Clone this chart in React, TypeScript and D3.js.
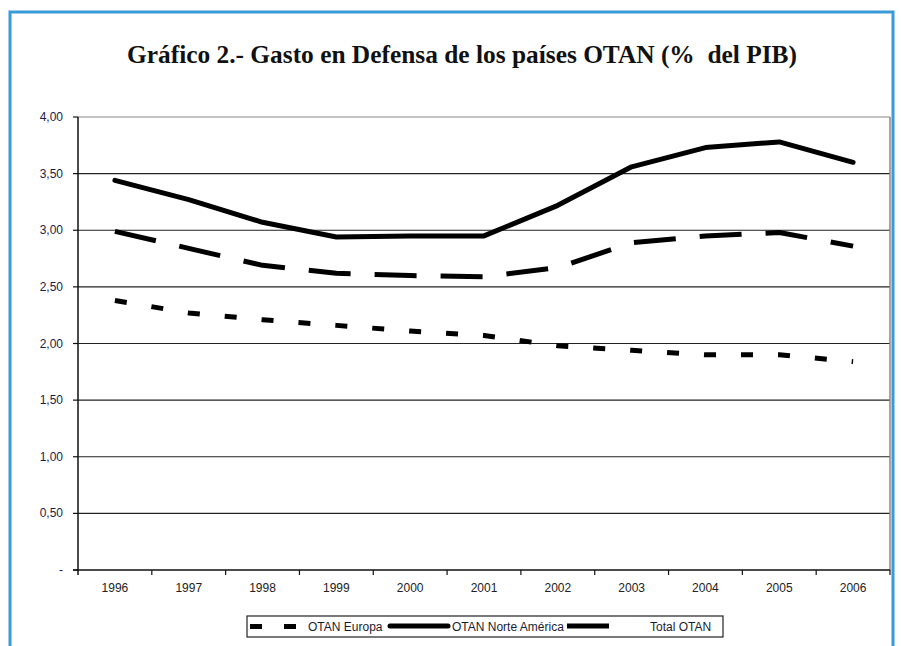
import React from "react";
import * as d3 from "d3";

const years = ["1996","1997","1998","1999","2000","2001","2002","2003","2004","2005","2006"];
const europa = [2.38, 2.27, 2.21, 2.16, 2.11, 2.07, 1.98, 1.94, 1.90, 1.90, 1.84];
const norteAmerica = [3.44, 3.27, 3.07, 2.94, 2.95, 2.95, 3.22, 3.56, 3.73, 3.78, 3.60];
const totalOtan = [2.99, 2.84, 2.69, 2.62, 2.60, 2.59, 2.67, 2.89, 2.95, 2.98, 2.86];
const yTicks = [0, 0.5, 1, 1.5, 2, 2.5, 3, 3.5, 4];
const yTickLabels = ["-", "0,50", "1,00", "1,50", "2,00", "2,50", "3,00", "3,50", "4,00"];
const title = "Gráfico 2.- Gasto en Defensa de los países OTAN (%  del PIB)";

const series = [
  { name: "OTAN Europa", values: europa, dash: "12,25" },
  { name: "OTAN Norte América", values: norteAmerica, dash: null },
  { name: "Total OTAN", values: totalOtan, dash: "42,24" },
];

export default function App() {
  const W = 901, H = 646;
  const left = 78, right = 890, top = 117, bottom = 570;
  const x = d3.scaleBand().domain(years).range([left, right]);
  const y = d3.scaleLinear().domain([0, 4]).range([bottom, top]);
  const line = d3.line<number>()
    .x((_, i) => (x(years[i]) as number) + x.bandwidth() / 2)
    .y((d) => y(d));
  const font = "Arial, 'Liberation Sans', sans-serif";
  return (
    <svg width={W} height={H} style={{ position: "absolute", left: 0, top: 0, background: "#fff" }}>
      {/* blue frame */}
      <path d={`M10,${H} L10,12 L893,12 L893,${H}`} fill="none" stroke="#3a9ad9" strokeWidth={3} />
      <text x={127} y={63} textLength={670} lengthAdjust="spacingAndGlyphs" xmlSpace="preserve"
        fontFamily="'Liberation Serif', 'Times New Roman', serif"
        fontWeight="bold" fontSize={25} fill="#111" style={{ whiteSpace: "pre" }}>{title}</text>
      {/* gridlines */}
      {yTicks.slice(1, -1).map((t) => (
        <line key={t} x1={left} x2={right} y1={y(t)} y2={y(t)} stroke="#222" strokeWidth={1.2} />
      ))}
      {/* frame top/right */}
      <line x1={left} x2={right} y1={top} y2={top} stroke="#888" strokeWidth={1.2} />
      <line x1={right} x2={right} y1={top} y2={bottom} stroke="#888" strokeWidth={1.5} />
      {/* axes */}
      <line x1={left} x2={left} y1={top} y2={bottom + 5} stroke="#111" strokeWidth={1.5} />
      <line x1={left - 5} x2={right} y1={bottom} y2={bottom} stroke="#111" strokeWidth={1.5} />
      {yTicks.map((t, i) => (
        <g key={t}>
          <line x1={left - 5} x2={left} y1={y(t)} y2={y(t)} stroke="#111" strokeWidth={1.2} />
          <text x={63} y={y(t) + 4} textAnchor="end" fontFamily={font} fontSize={12} fill="#1c1c48">{yTickLabels[i]}</text>
        </g>
      ))}
      {years.map((yr) => (
        <g key={yr}>
          <line x1={(x(yr) as number) + x.bandwidth()} x2={(x(yr) as number) + x.bandwidth()} y1={bottom} y2={bottom + 5} stroke="#111" strokeWidth={1.2} />
          <text x={(x(yr) as number) + x.bandwidth() / 2} y={592} textAnchor="middle" fontFamily={font} fontSize={12} fill="#222">{yr}</text>
        </g>
      ))}
      {/* lines */}
      {series.map((s) => (
        <path key={s.name} d={line(s.values) || ""} fill="none" stroke="#000" strokeWidth={5}
          strokeDasharray={s.dash || undefined} strokeLinecap={s.dash ? "butt" : "round"} strokeLinejoin="round" />
      ))}
      {/* legend */}
      <rect x={247} y={616} width={476} height={21} fill="#fff" stroke="#222" strokeWidth={1.2} />
      <line x1={250} x2={296} y1={626.5} y2={626.5} stroke="#000" strokeWidth={5} strokeDasharray="12,22" />
      <text x={308} y={631} fontFamily={font} fontSize={12} fill="#1c1c30">OTAN Europa</text>
      <line x1={390} x2={448} y1={626} y2={626} stroke="#000" strokeWidth={5} strokeLinecap="round" />
      <text x={452} y={631} fontFamily={font} fontSize={12} fill="#1c1c30">OTAN Norte América</text>
      <line x1={567} x2={609} y1={626} y2={626} stroke="#000" strokeWidth={5} />
      <text x={650} y={631} fontFamily={font} fontSize={12} fill="#1c1c30">Total OTAN</text>
    </svg>
  );
}
